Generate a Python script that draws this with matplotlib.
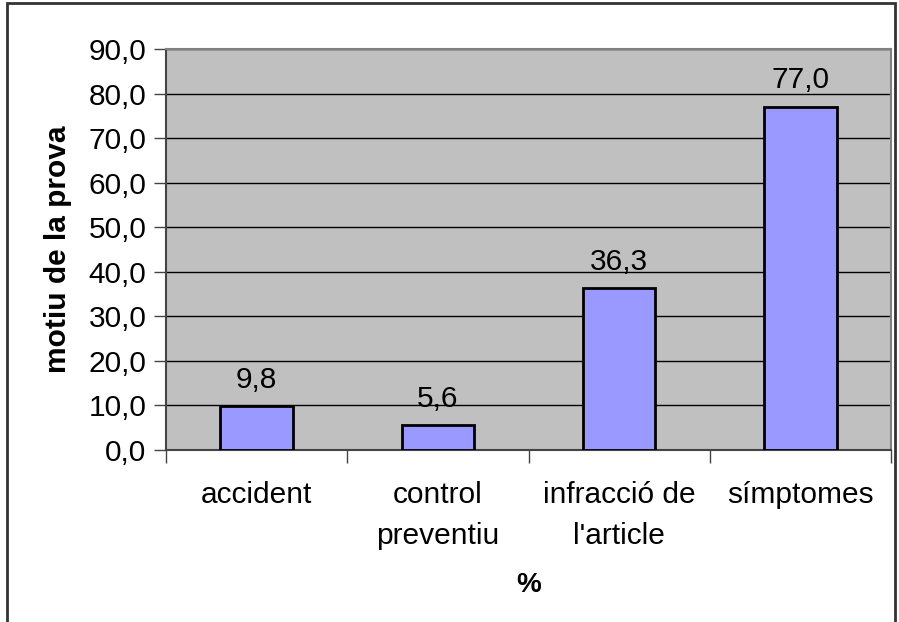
import matplotlib.pyplot as plt
from matplotlib.patches import Rectangle

plt.rcParams['font.family'] = ['Liberation Sans', 'DejaVu Sans']

# data
categories = ['accident', 'control\npreventiu', "infracció de\nl'article", 'símptomes']
values = [9.8, 5.6, 36.3, 77.0]
yticks = [0, 10, 20, 30, 40, 50, 60, 70, 80, 90]

W, H = 899, 622
fig = plt.figure(figsize=(W / 100, H / 100), dpi=100)

# outer chart border (bottom edge is cut off in the original)
fig.patches.append(Rectangle((7 / W, -0.05), (895 - 7) / W, 1.05 - 3 / H,
                             transform=fig.transFigure, fill=False,
                             edgecolor='#333333', linewidth=2))

ax = fig.add_axes([166 / W, 1 - 450 / H, (891 - 166) / W, (450 - 49) / H])
ax.set_facecolor('#C0C0C0')

x = list(range(len(categories)))
ax.bar(x, values, width=0.4, color='#9999FF', edgecolor='black', linewidth=2, zorder=3)
for xi, v in zip(x, values):
    ax.annotate(f'{v:.1f}'.replace('.', ','), (xi, v), xytext=(0, 9),
                textcoords='offset points', ha='center', va='bottom', fontsize=21.5)

ax.set_xlim(-0.5, len(categories) - 0.5)
ax.set_ylim(0, 90)
ax.set_yticks(yticks)
ax.set_yticklabels([f'{t:.1f}'.replace('.', ',') for t in yticks], fontsize=21.5)
ax.yaxis.grid(True, color='black', linewidth=1, zorder=0)
ax.set_axisbelow(True)

# category ticks at the boundaries, labels in the middle
ax.set_xticks([i - 0.5 for i in range(len(categories) + 1)])
ax.set_xticklabels([])
ax.set_xticks(x, minor=True)
ax.set_xticklabels(categories, minor=True, fontsize=21.5, linespacing=1.62)
ax.tick_params(axis='x', which='minor', length=0, pad=22)
ax.tick_params(axis='x', which='major', length=9, width=1, color='#444444')
ax.tick_params(axis='y', length=9, width=1, color='#444444', pad=5)

for side in ['top', 'right']:
    ax.spines[side].set_color('#808080')
    ax.spines[side].set_linewidth(1.5)
for side in ['left', 'bottom']:
    ax.spines[side].set_color('#444444')
    ax.spines[side].set_linewidth(1.5)

ax.set_ylabel('motiu de la prova', fontsize=21.5, fontweight='bold', labelpad=12)
ax.set_xlabel('%', fontsize=20, fontweight='bold', labelpad=16)

fig.savefig('out.png', dpi=100)
